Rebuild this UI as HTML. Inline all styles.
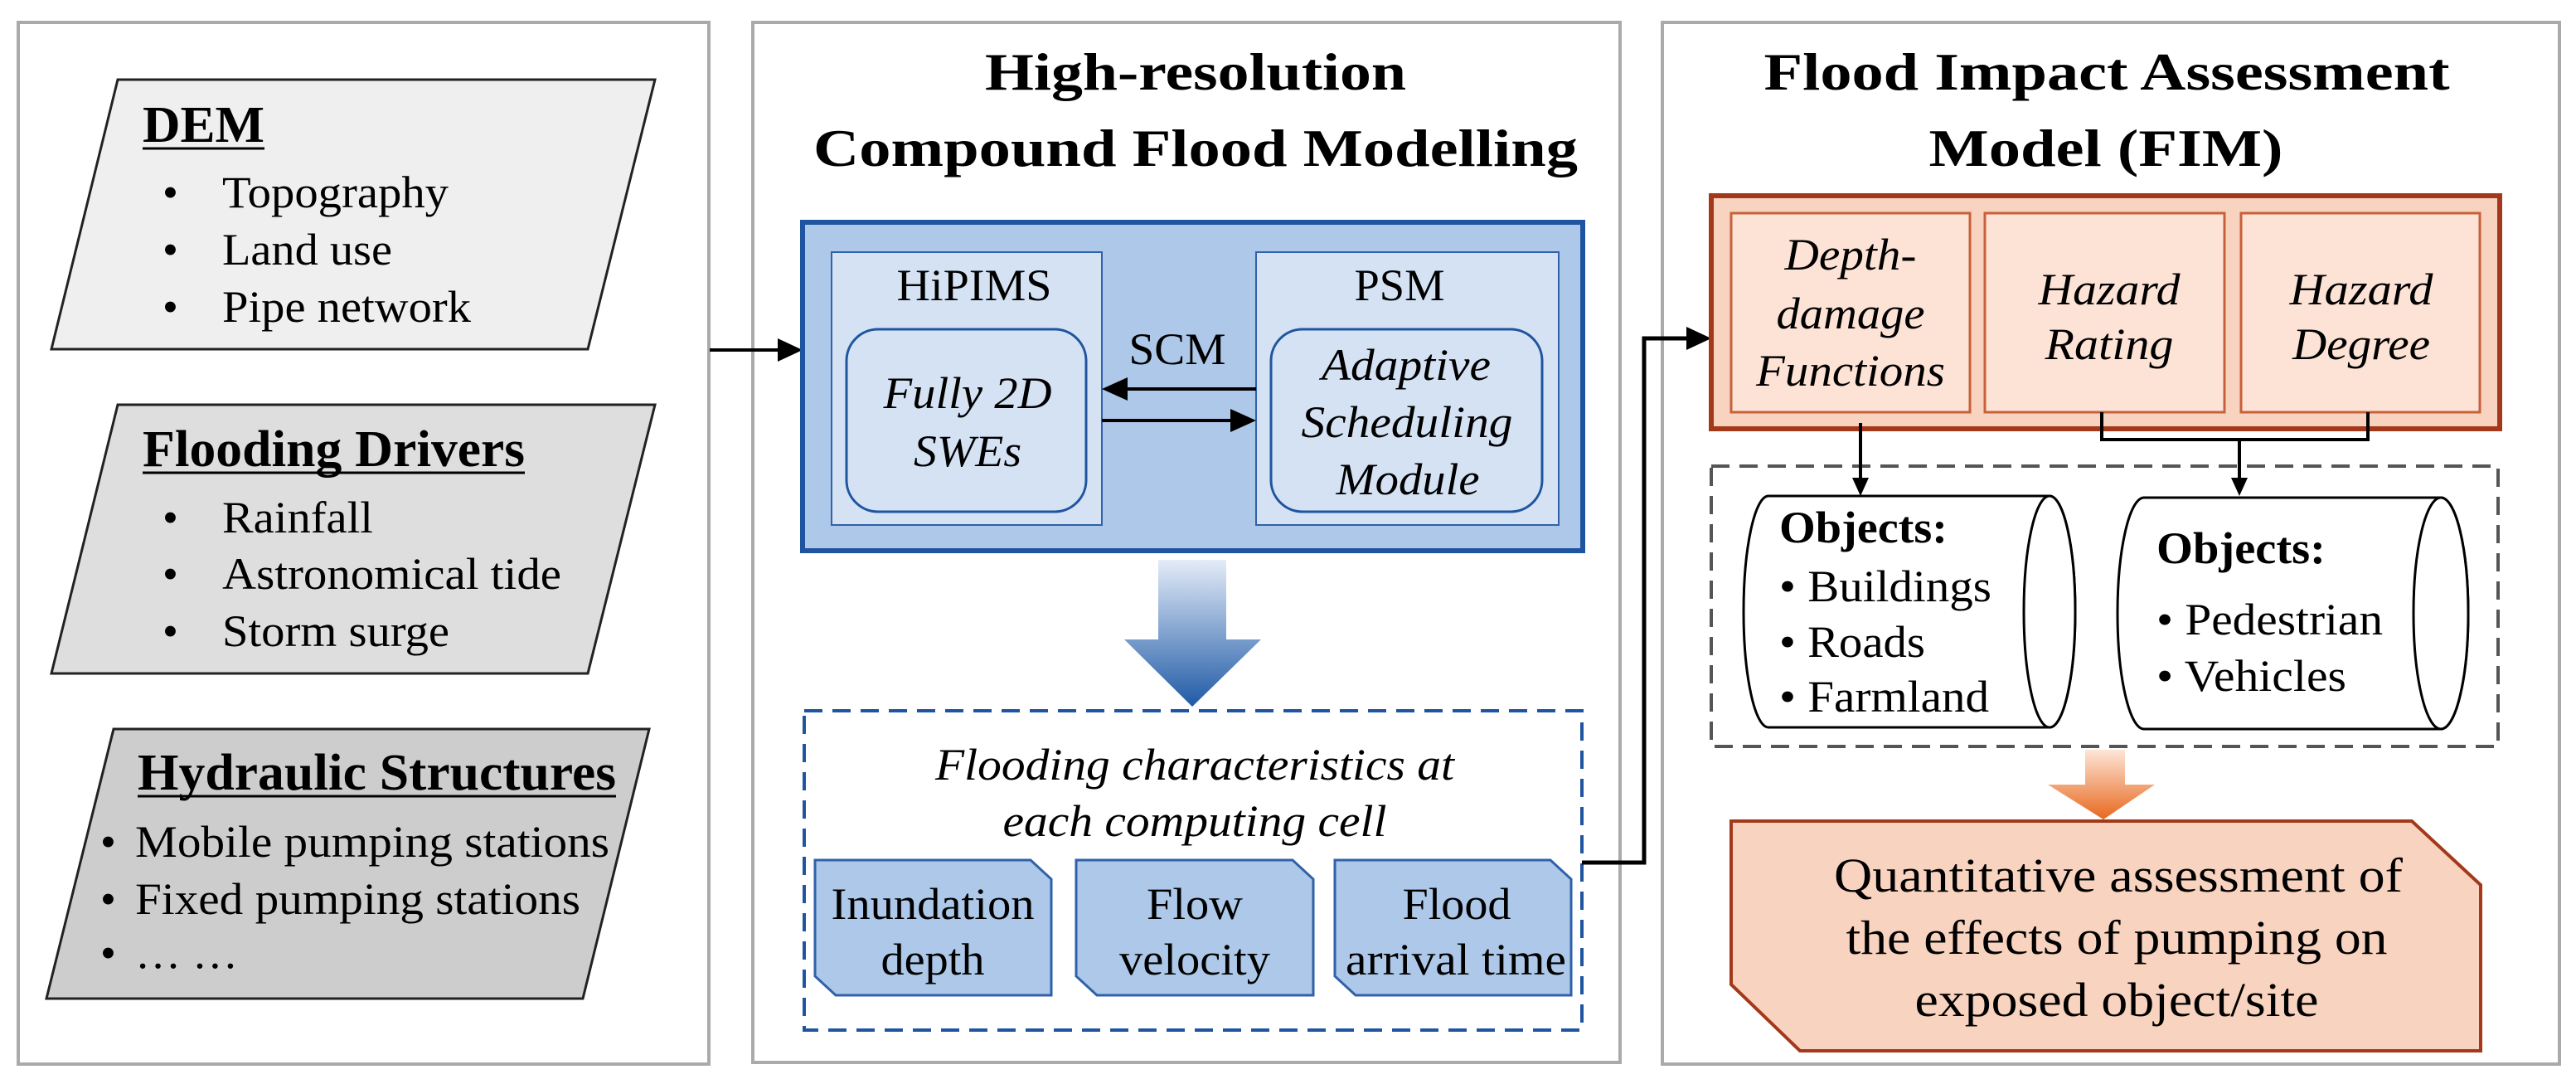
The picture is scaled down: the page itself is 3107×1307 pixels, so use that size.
<!DOCTYPE html>
<html><head><meta charset="utf-8"><style>html,body{margin:0;padding:0;background:#fff}svg{display:block}text{font-family:"Liberation Serif","DejaVu Serif",serif;fill:#000}</style></head><body>
<svg width="3107" height="1307" viewBox="0 0 3107 1307" xmlns="http://www.w3.org/2000/svg" font-family="Liberation Serif, DejaVu Serif, serif">
<defs>
<linearGradient id="bg" x1="0" y1="0" x2="0" y2="1"><stop offset="0" stop-color="#e4ecf8"/><stop offset="1" stop-color="#1f5aa6"/></linearGradient>
<linearGradient id="og" x1="0" y1="0" x2="0" y2="1"><stop offset="0" stop-color="#fde6d8"/><stop offset="1" stop-color="#e8681e"/></linearGradient>
</defs>
<rect x="22" y="27" width="833" height="1256" fill="#fff" stroke="#aaa" stroke-width="4"/>
<rect x="908" y="27" width="1046" height="1254" fill="#fff" stroke="#aaa" stroke-width="4"/>
<rect x="2005" y="27" width="1082" height="1256" fill="#fff" stroke="#aaa" stroke-width="4"/>

<polygon points="142,96 790,96 709,421 62,421" fill="#efefef" stroke="#222" stroke-width="3"/>
<polygon points="142,488 790,488 709,812 62,812" fill="#dedede" stroke="#222" stroke-width="3"/>
<polygon points="137,879 783,879 703,1204 56,1204" fill="#cdcdcd" stroke="#222" stroke-width="3"/>
<g font-size="54">
<text x="172" y="171" font-weight="bold" font-size="62" textLength="147" lengthAdjust="spacingAndGlyphs">DEM</text>
<line x1="172" y1="179" x2="319" y2="179" stroke="#000" stroke-width="3"/>
<text x="196" y="250">•</text><text x="268" y="250" textLength="273" lengthAdjust="spacingAndGlyphs">Topography</text>
<text x="196" y="319">•</text><text x="268" y="319" textLength="205" lengthAdjust="spacingAndGlyphs">Land use</text>
<text x="196" y="388">•</text><text x="268" y="388" textLength="300" lengthAdjust="spacingAndGlyphs">Pipe network</text>
<text x="172" y="562" font-weight="bold" font-size="62" textLength="461" lengthAdjust="spacingAndGlyphs">Flooding Drivers</text>
<line x1="172" y1="570" x2="633" y2="570" stroke="#000" stroke-width="3"/>
<text x="196" y="642">•</text><text x="268" y="642" textLength="182" lengthAdjust="spacingAndGlyphs">Rainfall</text>
<text x="196" y="710">•</text><text x="268" y="710" textLength="409" lengthAdjust="spacingAndGlyphs">Astronomical tide</text>
<text x="196" y="779">•</text><text x="268" y="779" textLength="274" lengthAdjust="spacingAndGlyphs">Storm surge</text>
<text x="166" y="952" font-weight="bold" font-size="62" textLength="577" lengthAdjust="spacingAndGlyphs">Hydraulic Structures</text>
<line x1="166" y1="960" x2="743" y2="960" stroke="#000" stroke-width="3"/>
<text x="121" y="1033">•</text><text x="163" y="1033" textLength="572" lengthAdjust="spacingAndGlyphs">Mobile pumping stations</text>
<text x="121" y="1102">•</text><text x="163" y="1102" textLength="537" lengthAdjust="spacingAndGlyphs">Fixed pumping stations</text>
<text x="121" y="1167">•</text><text x="163" y="1167" textLength="124" lengthAdjust="spacingAndGlyphs">… …</text>
</g>
<line x1="856" y1="422" x2="940" y2="422" stroke="#000" stroke-width="4"/>
<path d="M938,408 L968,422 L938,436 z" fill="#000"/>

<g font-weight="bold" font-size="64" text-anchor="middle">
<text x="1442" y="108" textLength="508" lengthAdjust="spacingAndGlyphs">High-resolution</text>
<text x="1442" y="200" textLength="922" lengthAdjust="spacingAndGlyphs">Compound Flood Modelling</text>
</g>
<rect x="968" y="268" width="941" height="396" fill="#adc8e8" stroke="#1f55a0" stroke-width="6"/>
<rect x="1003" y="304" width="326" height="329" fill="#d5e2f3" stroke="#2f62a8" stroke-width="2"/>
<rect x="1515" y="304" width="365" height="329" fill="#d5e2f3" stroke="#2f62a8" stroke-width="2"/>
<rect x="1021" y="397" width="289" height="220" rx="38" fill="#d5e2f3" stroke="#1f55a0" stroke-width="3"/>
<rect x="1533" y="397" width="327" height="220" rx="38" fill="#d5e2f3" stroke="#1f55a0" stroke-width="3"/>
<g font-size="54" text-anchor="middle">
<text x="1175" y="362" textLength="187" lengthAdjust="spacingAndGlyphs">HiPIMS</text>
<text x="1688" y="362" textLength="109" lengthAdjust="spacingAndGlyphs">PSM</text>
<text x="1420" y="439" textLength="117" lengthAdjust="spacingAndGlyphs">SCM</text>
<g font-style="italic">
<text x="1167" y="492" textLength="203" lengthAdjust="spacingAndGlyphs">Fully 2D</text>
<text x="1167" y="562" textLength="130" lengthAdjust="spacingAndGlyphs">SWEs</text>
<text x="1696" y="458" textLength="204" lengthAdjust="spacingAndGlyphs">Adaptive</text>
<text x="1697" y="527" textLength="255" lengthAdjust="spacingAndGlyphs">Scheduling</text>
<text x="1698" y="596" textLength="173" lengthAdjust="spacingAndGlyphs">Module</text>
</g></g>
<line x1="1515" y1="469" x2="1355" y2="469" stroke="#000" stroke-width="4"/>
<path d="M1329,469 L1360,455 L1360,483 z" fill="#000"/>
<line x1="1329" y1="507" x2="1490" y2="507" stroke="#000" stroke-width="4"/>
<path d="M1515,507 L1484,493 L1484,521 z" fill="#000"/>
<path d="M1397,675 L1479,675 L1479,771 L1521,771 L1438,852 L1356,771 L1397,771 z" fill="url(#bg)"/>
<rect x="970" y="857" width="938" height="385" fill="none" stroke="#1f55a0" stroke-width="4" stroke-dasharray="22,12"/>
<g font-size="54" text-anchor="middle" font-style="italic">
<text x="1441" y="940" textLength="626" lengthAdjust="spacingAndGlyphs">Flooding characteristics at</text>
<text x="1441" y="1008" textLength="463" lengthAdjust="spacingAndGlyphs">each computing cell</text>
</g>
<g fill="#adc8e8" stroke="#2f62a8" stroke-width="3">
<path d="M983,1037 L1243,1037 L1268,1060 L1268,1200 L1008,1200 L983,1177 z"/>
<path d="M1298,1037 L1559,1037 L1584,1060 L1584,1200 L1323,1200 L1298,1177 z"/>
<path d="M1610,1037 L1870,1037 L1895,1060 L1895,1200 L1635,1200 L1610,1177 z"/>
</g>
<g font-size="54" text-anchor="middle">
<text x="1125" y="1108" textLength="245" lengthAdjust="spacingAndGlyphs">Inundation</text>
<text x="1125" y="1175" textLength="125" lengthAdjust="spacingAndGlyphs">depth</text>
<text x="1441" y="1108" textLength="116" lengthAdjust="spacingAndGlyphs">Flow</text>
<text x="1441" y="1175" textLength="182" lengthAdjust="spacingAndGlyphs">velocity</text>
<text x="1757" y="1108" textLength="131" lengthAdjust="spacingAndGlyphs">Flood</text>
<text x="1756" y="1175" textLength="266" lengthAdjust="spacingAndGlyphs">arrival time</text>
</g>
<polyline points="1908,1040 1983,1040 1983,408 2040,408" fill="none" stroke="#000" stroke-width="5"/>
<path d="M2064,408 L2034,394 L2034,422 z" fill="#000"/>

<g font-weight="bold" font-size="64" text-anchor="middle">
<text x="2541" y="108" textLength="827" lengthAdjust="spacingAndGlyphs">Flood Impact Assessment</text>
<text x="2540" y="200" textLength="427" lengthAdjust="spacingAndGlyphs">Model (FIM)</text>
</g>
<rect x="2064" y="236" width="951" height="281" fill="#f8d3bf" stroke="#a3391a" stroke-width="6"/>
<g fill="#fde3d6" stroke="#c8603a" stroke-width="3">
<rect x="2088" y="257" width="288" height="240"/>
<rect x="2394" y="257" width="289" height="240"/>
<rect x="2703" y="257" width="288" height="240"/>
</g>
<g font-size="54" text-anchor="middle" font-style="italic">
<text x="2232" y="325" textLength="159" lengthAdjust="spacingAndGlyphs">Depth-</text>
<text x="2232" y="396" textLength="179" lengthAdjust="spacingAndGlyphs">damage</text>
<text x="2232" y="465" textLength="228" lengthAdjust="spacingAndGlyphs">Functions</text>
<text x="2544" y="367" textLength="171" lengthAdjust="spacingAndGlyphs">Hazard</text>
<text x="2544" y="433" textLength="155" lengthAdjust="spacingAndGlyphs">Rating</text>
<text x="2848" y="367" textLength="173" lengthAdjust="spacingAndGlyphs">Hazard</text>
<text x="2848" y="433" textLength="166" lengthAdjust="spacingAndGlyphs">Degree</text>
</g>
<rect x="2064" y="562" width="949" height="338" fill="none" stroke="#555" stroke-width="4" stroke-dasharray="22,12"/>
<g stroke="#000" stroke-width="4" fill="none">
<line x1="2244" y1="510" x2="2244" y2="580"/>
<polyline points="2535,497 2535,530 2856,530 2856,497"/>
<line x1="2701" y1="530" x2="2701" y2="580"/>
</g>
<path d="M2244,598 L2234,576 L2254,576 z" fill="#000"/>
<path d="M2701,598 L2691,576 L2711,576 z" fill="#000"/>
<g fill="#fff" stroke="#000" stroke-width="3">
<path d="M2133,598 L2472,598 A31,139.5 0 0 1 2472,877 L2133,877 A30,139.5 0 0 1 2133,598 z"/>
<ellipse cx="2472" cy="737.5" rx="31" ry="139.5"/>
<path d="M2586,600 L2944,600 A33,139.5 0 0 1 2944,879 L2586,879 A32,139.5 0 0 1 2586,600 z"/>
<ellipse cx="2944" cy="739.5" rx="33" ry="139.5"/>
</g>
<g font-size="54">
<text x="2146" y="654" font-weight="bold" textLength="203" lengthAdjust="spacingAndGlyphs">Objects:</text>
<text x="2146" y="725" textLength="256" lengthAdjust="spacingAndGlyphs">• Buildings</text>
<text x="2146" y="792" textLength="176" lengthAdjust="spacingAndGlyphs">• Roads</text>
<text x="2146" y="858" textLength="253" lengthAdjust="spacingAndGlyphs">• Farmland</text>
<text x="2601" y="679" font-weight="bold" textLength="204" lengthAdjust="spacingAndGlyphs">Objects:</text>
<text x="2601" y="765" textLength="273" lengthAdjust="spacingAndGlyphs">• Pedestrian</text>
<text x="2601" y="833" textLength="229" lengthAdjust="spacingAndGlyphs">• Vehicles</text>
</g>
<path d="M2515,904 L2563,904 L2563,946 L2599,946 L2537,988 L2470,946 L2515,946 z" fill="url(#og)"/>
<path d="M2088,990 L2909,990 L2992,1067 L2992,1267 L2171,1267 L2088,1187 z" fill="#f8d3bf" stroke="#a3391a" stroke-width="4"/>
<g font-size="58" text-anchor="middle">
<text x="2555" y="1075" textLength="686" lengthAdjust="spacingAndGlyphs">Quantitative assessment of</text>
<text x="2553" y="1150" textLength="653" lengthAdjust="spacingAndGlyphs">the effects of pumping on</text>
<text x="2553" y="1225" textLength="487" lengthAdjust="spacingAndGlyphs">exposed object/site</text>
</g>
</svg>
</body></html>
